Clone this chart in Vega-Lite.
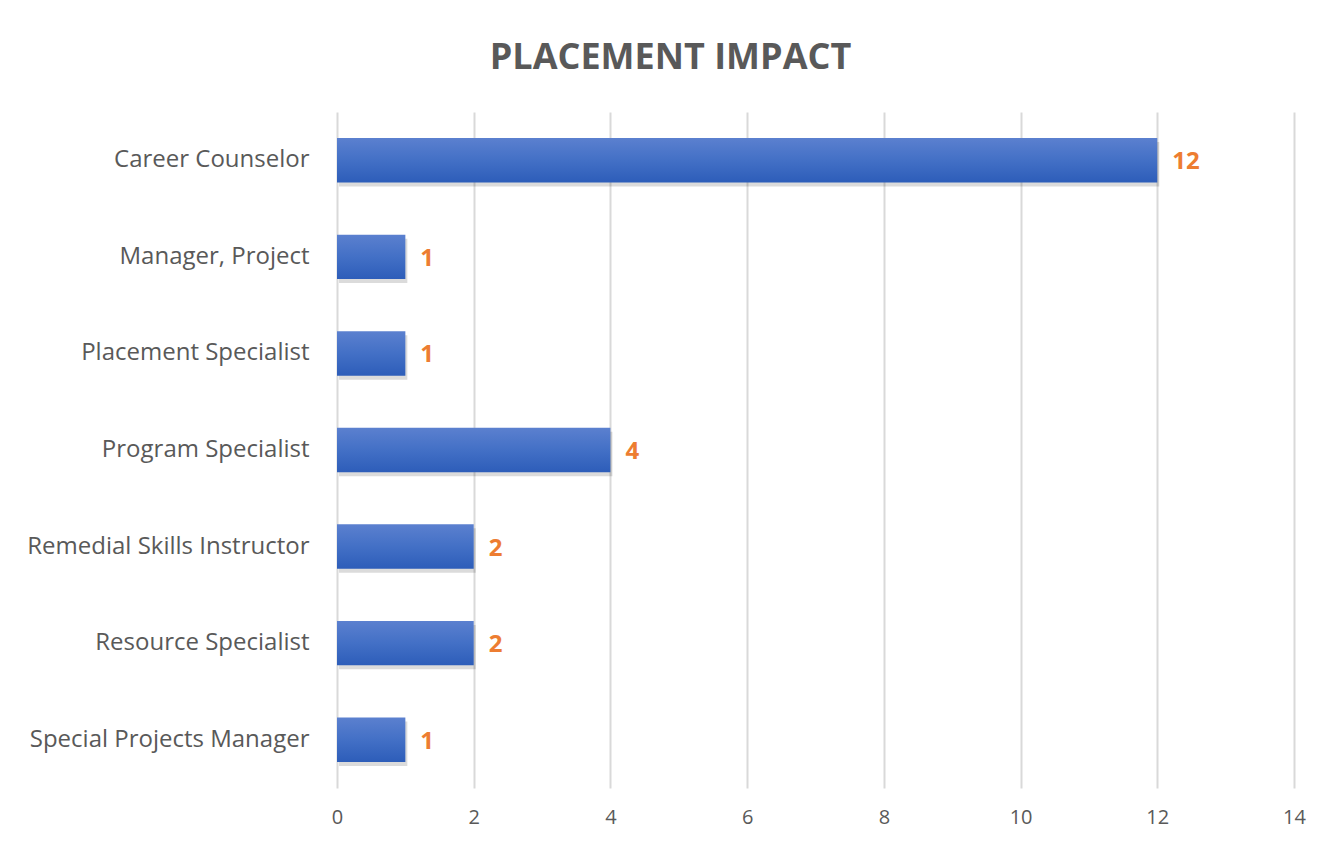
{
  "$schema": "https://vega.github.io/schema/vega-lite/v6.json",
  "autosize": {"type": "none"},
  "width": 957,
  "height": 676,
  "padding": {"left": 337, "top": 112, "right": 46, "bottom": 57},
  "background": "white",
  "config": {"view": {"stroke": null}},
  "title": {
    "text": "PLACEMENT IMPACT",
    "font": "Open Sans",
    "fontSize": 36,
    "fontWeight": "bold",
    "color": "#595959",
    "anchor": "middle",
    "frame": "group",
    "dx": -145,
    "offset": 35
  },
  "data": {
    "values": [
      {"role": "Career Counselor", "count": 12},
      {"role": "Manager, Project", "count": 1},
      {"role": "Placement Specialist", "count": 1},
      {"role": "Program Specialist", "count": 4},
      {"role": "Remedial Skills Instructor", "count": 2},
      {"role": "Resource Specialist", "count": 2},
      {"role": "Special Projects Manager", "count": 1}
    ]
  },
  "encoding": {
    "y": {
      "field": "role",
      "type": "nominal",
      "sort": null,
      "scale": {"paddingInner": 0.54, "paddingOuter": 0.27},
      "axis": {
        "title": null,
        "domain": false,
        "ticks": false,
        "labelPadding": 28,
        "labelFont": "Open Sans",
        "labelFontSize": 24,
        "labelColor": "#595959",
        "labelLimit": 400
      }
    },
    "x": {
      "field": "count",
      "type": "quantitative",
      "scale": {"domain": [0, 14], "nice": false},
      "axis": {
        "title": null,
        "values": [0, 2, 4, 6, 8, 10, 12, 14],
        "domain": false,
        "ticks": false,
        "grid": true,
        "gridColor": "#d9d9d9",
        "gridWidth": 2,
        "labelFlush": false,
        "labelPadding": 19,
        "labelFont": "Open Sans",
        "labelFontSize": 20,
        "labelColor": "#595959"
      }
    }
  },
  "layer": [
    {
      "mark": {"type": "bar", "color": "#000000", "opacity": 0.14, "xOffset": 2, "yOffset": 4}
    },
    {
      "mark": {
        "type": "bar",
        "color": {
          "gradient": "linear",
          "x1": 0, "y1": 0, "x2": 0, "y2": 1,
          "stops": [
            {"offset": 0, "color": "#5b80cf"},
            {"offset": 0.5, "color": "#4370c6"},
            {"offset": 1, "color": "#2d5db9"}
          ]
        }
      }
    },
    {
      "mark": {
        "type": "text",
        "align": "left",
        "baseline": "middle",
        "dx": 15,
        "dy": 2,
        "font": "Open Sans",
        "fontSize": 24,
        "fontWeight": "bold",
        "color": "#ED7D31"
      },
      "encoding": {"text": {"field": "count", "type": "quantitative"}}
    }
  ]
}
